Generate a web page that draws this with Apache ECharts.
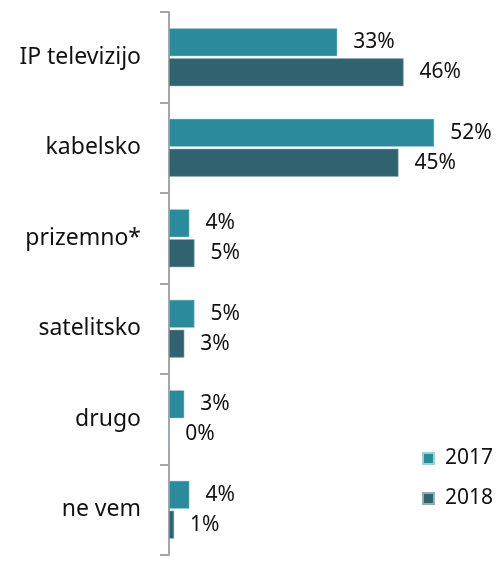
<!DOCTYPE html>
<html>
<head>
<meta charset="utf-8">
<script src="https://cdn.jsdelivr.net/npm/echarts@6/dist/echarts.min.js"></script>
<style>
  html, body { margin: 0; padding: 0; background: #fff; }
  #main { width: 498px; height: 563px; }
</style>
</head>
<body>
<div id="main"></div>
<script>
// kategorije in vrednosti (v %)
var kategorije = ['IP televizijo', 'kabelsko', 'prizemno*', 'satelitsko', 'drugo', 'ne vem'];
var leto2017 = [33, 52, 4, 5, 3, 4];
var leto2018 = [46, 45, 5, 3, 0, 1];
var leta = ['2017', '2018'];

var barva2017 = '#2b8a9b';
var barva2018 = '#31626f';

var myChart = echarts.init(document.getElementById('main'), null, { renderer: 'canvas' });

var oznaka = {
    show: true,
    position: 'right',
    distance: 16,
    formatter: '{c}%',
    color: '#111',
    fontSize: 21,
    fontFamily: 'Noto Sans'
};

var option = {
    animation: false,
    legend: {
        orient: 'vertical',
        right: 0,
        top: 443,
        itemWidth: 11,
        itemHeight: 11,
        itemGap: 19,
        icon: 'rect',
        textStyle: { fontSize: 21, color: '#111', fontFamily: 'Noto Sans', padding: [4, 0, 4, 6] },
        data: leta
    },
    grid: {
        left: 169,
        top: 12,
        bottom: 8,
        width: 306
    },
    xAxis: {
        type: 'value',
        min: 0,
        max: 60,
        show: false
    },
    yAxis: {
        type: 'category',
        inverse: true,
        data: kategorije,
        axisLine: { show: true, lineStyle: { color: '#a6a6a6', width: 2 } },
        axisTick: { show: true, length: 9, lineStyle: { color: '#a6a6a6', width: 2 } },
        axisLabel: {
            margin: 28,
            fontSize: 23,
            color: '#111',
            fontFamily: 'Noto Sans'
        }
    },
    series: [
        {
            name: leta[0],
            type: 'bar',
            data: leto2017,
            barCategoryGap: '36%',
            barGap: '7%',
            itemStyle: { color: barva2017, borderColor: '#9fd0d8', borderWidth: 0.5 },
            label: oznaka
        },
        {
            name: leta[1],
            type: 'bar',
            data: leto2018,
            itemStyle: { color: barva2018, borderColor: '#8fb0b8', borderWidth: 0.5 },
            label: oznaka
        }
    ]
};

myChart.setOption(option);
</script>
</body>
</html>
